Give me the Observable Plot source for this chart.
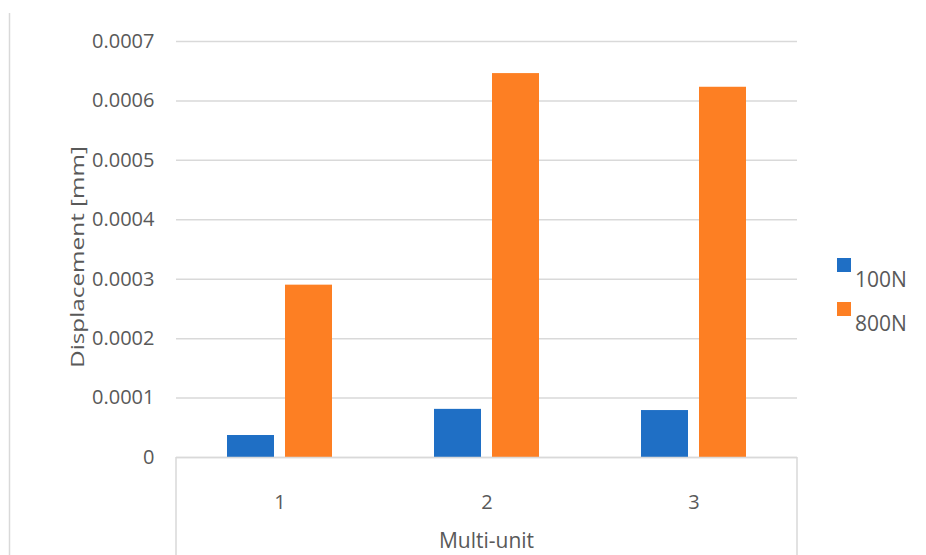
<!DOCTYPE html>
<html>
<head>
<meta charset="utf-8">
<script src="https://cdn.jsdelivr.net/npm/d3@7"></script>
<script src="https://cdn.jsdelivr.net/npm/@observablehq/plot@0.6"></script>
<style>
  html, body { margin: 0; padding: 0; background: #fff; }
  #chart svg { display: block; }
</style>
</head>
<body>
<div id="chart"></div>
<script>
// Displacement per multi-unit configuration under two loads
const units = ["1", "2", "3"];
const loads = ["100N", "800N"];
const disp100N = [0.000037, 0.000081, 0.000079];
const disp800N = [0.000290, 0.000646, 0.000623];
const yTicks = [0, 0.0001, 0.0002, 0.0003, 0.0004, 0.0005, 0.0006, 0.0007];
const loadColors = ["#1f6fc5", "#fd7f23"];
const yTitle = "Displacement [mm]";
const xTitle = "Multi-unit";

const rows = units.flatMap((u, i) => [
  {unit: u, load: loads[0], value: disp100N[i]},
  {unit: u, load: loads[1], value: disp800N[i]}
]);

const W = 926, H = 555;
const mL = 176, mR = 129, mT = 41, mB = 98;
const ink = "#595959", gridColor = "#d9d9d9";
const font = "'Open Sans', sans-serif";

const plot = Plot.plot({
  width: W, height: H,
  marginLeft: mL, marginRight: mR, marginTop: mT, marginBottom: mB,
  style: {fontFamily: font, fontSize: "20px", color: ink, background: "#fff"},
  fx: {domain: units, padding: 0},
  x: {domain: loads, paddingInner: 11 / 58, paddingOuter: 51 / 58, axis: null},
  y: {domain: [0, 0.0007]},
  color: {domain: loads, range: loadColors},
  marks: [
    Plot.gridY(yTicks, {stroke: gridColor, strokeOpacity: 1, strokeWidth: 1.5}),
    Plot.barY(rows, {fx: "unit", x: "load", y: "value", fill: "load"}),
    Plot.ruleY([0], {stroke: gridColor, strokeWidth: 1.5}),
    Plot.axisY(yTicks, {
      tickSize: 0, tickPadding: 22,
      tickFormat: d => d === 0 ? "0" : d.toFixed(4),
      label: null
    }),
    Plot.axisFx({anchor: "bottom", tickSize: 0, tickPadding: 37, label: null})
  ]
});

const svg = d3.select(plot);
const y = plot.scale("y");
const base = y.apply(0);

// category-axis box sides below the plot area
for (const xv of [mL, W - mR]) {
  svg.append("line")
    .attr("x1", xv).attr("x2", xv).attr("y1", base).attr("y2", H)
    .attr("stroke", gridColor).attr("stroke-width", 1.5);
}
// chart-area border on the left
svg.append("line")
  .attr("x1", 9.5).attr("x2", 9.5).attr("y1", 13).attr("y2", H)
  .attr("stroke", gridColor).attr("stroke-width", 1.5);

// axis titles
svg.append("text")
  .attr("transform", `translate(84,257) rotate(-90)`)
  .attr("text-anchor", "middle")
  .attr("font-family", font).attr("font-size", 18).attr("fill", ink)
  .attr("textLength", 222).attr("lengthAdjust", "spacingAndGlyphs")
  .text(yTitle);
svg.append("text")
  .attr("x", (mL + W - mR) / 2).attr("y", 548)
  .attr("text-anchor", "middle")
  .attr("font-family", font).attr("font-size", 21).attr("fill", ink)
  .text(xTitle);

// legend
const color = plot.scale("color");
const lg = svg.append("g")
  .attr("font-family", font).attr("font-size", 21).attr("fill", ink)
  .attr("text-anchor", "start");
color.domain.forEach((name, i) => {
  const top = 258 + i * 44;
  lg.append("rect").attr("x", 837).attr("y", top).attr("width", 14).attr("height", 14).attr("fill", color.range[i]);
  lg.append("text").attr("x", 855).attr("y", top + 29).text(name);
});

document.getElementById("chart").appendChild(plot);
</script>
</body>
</html>
